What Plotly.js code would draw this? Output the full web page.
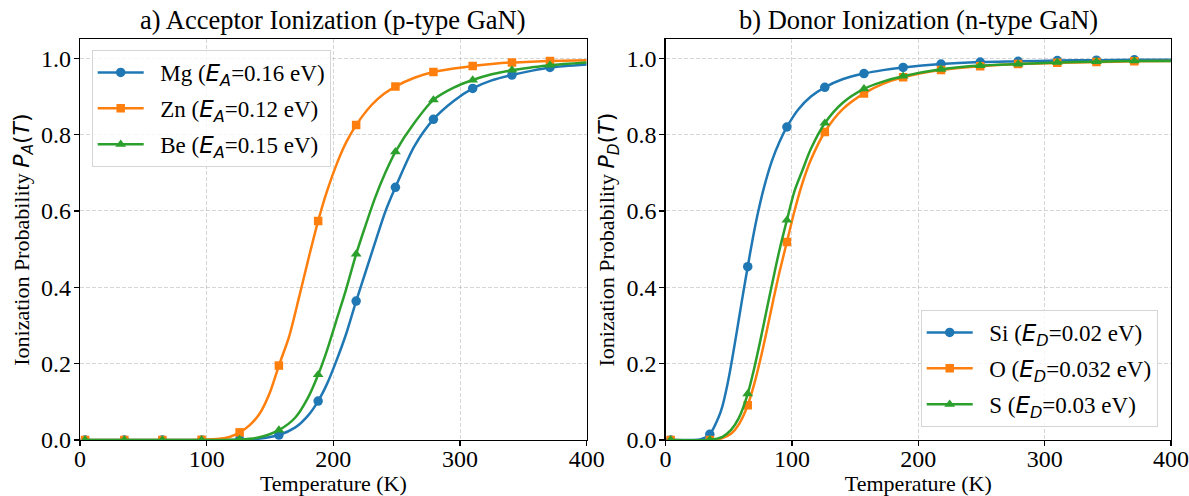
<!DOCTYPE html>
<html>
<head>
<meta charset="utf-8">
<script src="https://cdn.plot.ly/plotly-3.0.1.min.js"></script>
<style>
html,body{margin:0;padding:0;background:#fff;}
#chart{width:1189px;height:496px;}
</style>
</head>
<body>
<div id="chart"></div>
<script>
// ---- data ----
const markerT = [4, 35, 65, 96, 126, 157, 188, 218, 249, 279, 310, 341, 371];

// a) acceptors
const T_mg = [4,35,65,96,126,140,157,170,180,188,195,202,210,218,226,234,241,249,264,279,295,310,325,341,356,371,400];
const P_mg = [0,0,0,0,0.0007,0.003,0.013,0.033,0.064,0.102,0.147,0.204,0.277,0.364,0.446,0.528,0.598,0.662,0.77,0.840,0.888,0.921,0.942,0.956,0.967,0.976,0.984];

const T_zn = [4,35,65,96,110,118,126,134,142,150,157,165,173,180,188,195,203,210,218,230,240,249,264,279,295,310,325,341,356,371,400];
const P_zn = [0,0,0,0.0005,0.003,0.008,0.020,0.039,0.07,0.125,0.195,0.27,0.375,0.47,0.574,0.652,0.726,0.779,0.825,0.877,0.907,0.926,0.949,0.964,0.973,0.980,0.985,0.989,0.991,0.993,0.995];

const T_be = [4,35,65,96,126,140,157,170,180,188,195,202,210,218,225,233,241,249,264,279,295,310,325,341,356,371,400];
const P_be = [0,0,0,0,0.0012,0.006,0.026,0.059,0.111,0.171,0.235,0.309,0.394,0.487,0.558,0.635,0.70,0.755,0.831,0.891,0.923,0.943,0.958,0.969,0.976,0.982,0.989];

// b) donors
const T_si = [4,20,28,35,42,45,48,51,55,58,61,65,69,73,78,84,90,96,105,115,126,140,157,172,188,218,249,279,310,341,371,400];
const P_si = [0,0.0001,0.002,0.015,0.06,0.089,0.131,0.181,0.257,0.317,0.377,0.454,0.528,0.594,0.663,0.73,0.78,0.820,0.866,0.90,0.924,0.945,0.960,0.969,0.976,0.985,0.990,0.992,0.994,0.995,0.996,0.996];

const T_o = [4,35,45,52,58,65,70,75,80,85,90,96,102,108,115,126,140,157,172,188,218,249,279,310,341,371,400];
const P_o = [0,0.0003,0.005,0.017,0.041,0.091,0.145,0.211,0.285,0.363,0.438,0.519,0.60,0.67,0.734,0.807,0.866,0.908,0.933,0.950,0.969,0.979,0.985,0.988,0.990,0.992,0.993];

const T_s = [4,35,45,52,58,65,70,75,80,85,90,96,102,108,115,126,140,157,172,188,218,249,279,310,341,371,400];
const P_s = [0,0.0007,0.0085,0.027,0.058,0.121,0.186,0.261,0.341,0.42,0.496,0.576,0.652,0.704,0.763,0.830,0.883,0.920,0.939,0.953,0.971,0.981,0.985,0.989,0.991,0.993,0.993];

const namesA = ['Mg', 'Zn', 'Be'];
const energiesA = ['0.16', '0.12', '0.15'];
const namesD = ['Si', 'O', 'S'];
const energiesD = ['0.02', '0.032', '0.03'];

// ---- styling ----
const colors = ['#1f77b4', '#ff7f0e', '#2ca02c'];
const symbols = ['circle', 'square', 'triangle-up'];
const msizes = [9.5, 8.5, 9.5];
const SERIF = 'Liberation Serif, Times New Roman, serif';
const MATH = 'DejaVu Sans';

function label(name, sub, e) {
  return '\u00a0\u00a0' + name + ' (<span style="font-family:' + MATH + '"><i>E</i><sub><i>' + sub + '</i></sub></span>=' + e + ' eV)';
}

function series(T, P, idx, xa, ya, leg, text) {
  const mx = [], my = [];
  T.forEach((t, i) => { if (markerT.includes(t)) { mx.push(t); my.push(P[i]); } });
  return [
    {x: T, y: P, xaxis: xa, yaxis: ya, mode: 'lines', type: 'scatter',
     line: {color: colors[idx], width: 2.5, shape: 'spline', smoothing: 0.8},
     showlegend: false, hoverinfo: 'skip'},
    {x: mx, y: my, xaxis: xa, yaxis: ya, mode: 'markers', type: 'scatter',
     marker: {color: colors[idx], symbol: symbols[idx], size: msizes[idx], line: {width: 0}},
     showlegend: false},
    {x: [null], y: [null], xaxis: xa, yaxis: ya, mode: 'lines+markers', type: 'scatter',
     name: text, legend: leg, legendgroup: leg + idx,
     line: {color: colors[idx], width: 2.5},
     marker: {color: colors[idx], symbol: symbols[idx], size: msizes[idx], line: {width: 0}}}
  ];
}

const data = [].concat(
  series(T_mg, P_mg, 0, 'x', 'y', 'legend', label(namesA[0], 'A', energiesA[0])),
  series(T_zn, P_zn, 1, 'x', 'y', 'legend', label(namesA[1], 'A', energiesA[1])),
  series(T_be, P_be, 2, 'x', 'y', 'legend', label(namesA[2], 'A', energiesA[2])),
  series(T_si, P_si, 0, 'x2', 'y2', 'legend2', label(namesD[0], 'D', energiesD[0])),
  series(T_o, P_o, 1, 'x2', 'y2', 'legend2', label(namesD[1], 'D', energiesD[1])),
  series(T_s, P_s, 2, 'x2', 'y2', 'legend2', label(namesD[2], 'D', energiesD[2]))
);

const FS = 22;
const tickFont = {family: SERIF, size: 24, color: '#000'};
function xax(domain, anchor) {
  return {domain: domain, anchor: anchor, range: [0, 400], tickvals: [0,100,200,300,400],
    showline: true, mirror: true, linecolor: '#000', linewidth: 1.3,
    ticks: 'outside', ticklen: 5, tickwidth: 1.2, tickcolor: '#000',
    ticklabelstandoff: -8,
    showgrid: true, gridcolor: 'rgba(170,170,170,0.6)', gridwidth: 0.8, griddash: '4px,2px',
    zeroline: false, tickfont: tickFont,
    title: {text: 'Temperature (K)', font: {family: SERIF, size: FS, color: '#000'}, standoff: 3}};
}
function yax(domain, anchor, sub) {
  return {domain: domain, anchor: anchor, range: [0, 1.05], tickvals: [0,0.2,0.4,0.6,0.8,1.0],
    tickformat: '.1f',
    showline: true, mirror: true, linecolor: '#000', linewidth: 1.3,
    ticks: 'outside', ticklen: 5, tickwidth: 1.2, tickcolor: '#000',
    ticklabelstandoff: -2,
    showgrid: true, gridcolor: 'rgba(170,170,170,0.6)', gridwidth: 0.8, griddash: '4px,2px',
    zeroline: false, tickfont: tickFont,
    title: {text: 'Ionization Probability <span style="font-family:' + MATH + '"><i>P</i><sub><i>' + sub + '</i></sub>(<i>T</i>)</span>',
            font: {family: SERIF, size: FS, color: '#000'}, standoff: 5}};
}

const legendBase = {
  font: {family: SERIF, size: 23, color: '#000'},
  bgcolor: 'rgba(255,255,255,0.8)', bordercolor: '#d5d5d5', borderwidth: 1,
  xanchor: 'left', yanchor: 'top', traceorder: 'grouped', tracegroupgap: 3,
  itemwidth: 46
};

const layout = {
  width: 1189, height: 496,
  margin: {l: 0, r: 0, t: 0, b: 0},
  paper_bgcolor: '#fff', plot_bgcolor: '#fff',
  showlegend: true,
  xaxis: xax([80/1189, 586.7/1189], 'y'),
  yaxis: yax([1 - 440/496, 1 - 39.2/496], 'x', 'A'),
  xaxis2: xax([665.6/1189, 1171/1189], 'y2'),
  yaxis2: yax([1 - 440/496, 1 - 39.2/496], 'x2', 'D'),
  legend: Object.assign({}, legendBase, {x: 91.7/1189, y: 1 - 50/496}),
  legend2: Object.assign({}, legendBase, {x: 920.7/1189, y: 1 - 310/496}),
  annotations: [
    {text: 'a) Acceptor Ionization (p-type GaN)', xref: 'paper', yref: 'paper',
     x: 333.3/1189, y: 1 - 37/496, xanchor: 'center', yanchor: 'bottom', showarrow: false,
     font: {family: SERIF, size: 26.5, color: '#000'}},
    {text: 'b) Donor Ionization (n-type GaN)', xref: 'paper', yref: 'paper',
     x: 918.3/1189, y: 1 - 37/496, xanchor: 'center', yanchor: 'bottom', showarrow: false,
     font: {family: SERIF, size: 26.5, color: '#000'}}
  ]
};

Plotly.newPlot('chart', data, layout, {staticPlot: true, displayModeBar: false});
</script>
</body>
</html>
